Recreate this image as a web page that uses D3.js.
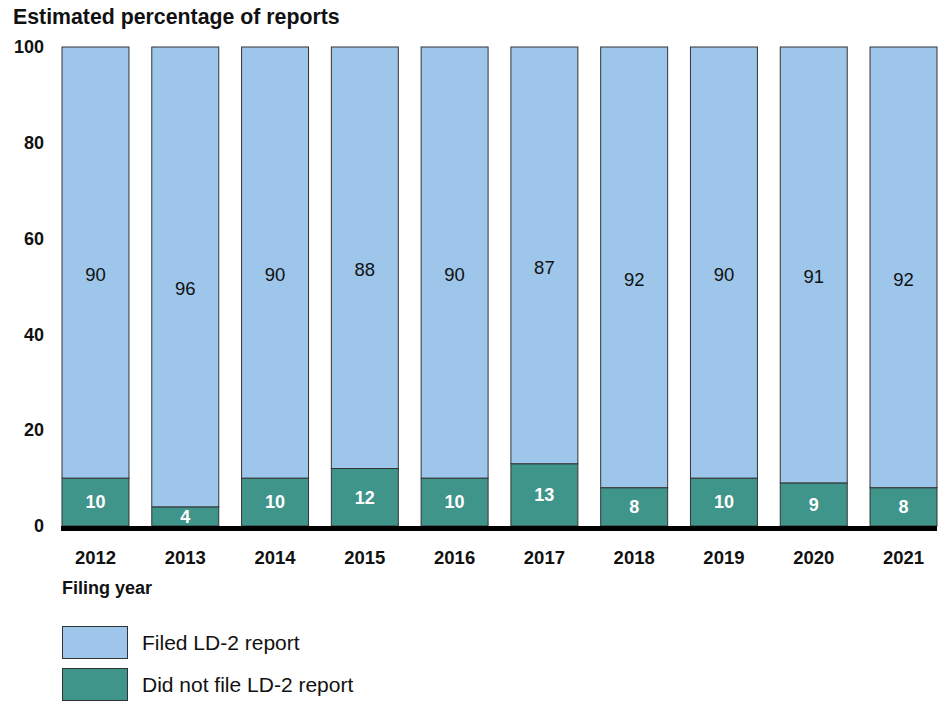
<!DOCTYPE html>
<html>
<head>
<meta charset="utf-8">
<script src="https://cdn.jsdelivr.net/npm/d3@7"></script>
<style>
  html, body { margin: 0; padding: 0; background: #fff; }
  svg { display: block; font-family: "Liberation Sans", Arial, sans-serif; }
</style>
</head>
<body>
<svg id="chart" width="943" height="702"></svg>
<script>
const years = ["2012","2013","2014","2015","2016","2017","2018","2019","2020","2021"];
const filed = [90, 96, 90, 88, 90, 87, 92, 90, 91, 92];
const notFiled = [10, 4, 10, 12, 10, 13, 8, 10, 9, 8];
const yTicks = [0, 20, 40, 60, 80, 100];
const seriesNames = ["Filed LD-2 report", "Did not file LD-2 report"];
const colors = ["#9dc6ea", "#3f958a"];

const svg = d3.select("#chart");
const x = d3.scaleBand().domain(years).range([62, 937]).paddingInner(0.254).paddingOuter(0);
const y = d3.scaleLinear().domain([0, 100]).range([526, 47]);

// Title
svg.append("text").attr("x", 13).attr("y", 24)
  .attr("font-size", 21.3).attr("font-weight", "bold").attr("fill", "#111")
  .text("Estimated percentage of reports");

// Y ticks (labels only)
const yAxis = d3.axisLeft(y).tickValues(yTicks).tickSize(0).tickPadding(0);
const gy = svg.append("g").attr("transform", "translate(44,0)").call(yAxis);
gy.select(".domain").remove();
gy.selectAll("text").attr("font-size", 18).attr("font-weight", "bold")
  .attr("fill", "#111").attr("font-family", "Liberation Sans, Arial, sans-serif");

// Bars
const data = years.map((yr, i) => ({ yr, filed: filed[i], notFiled: notFiled[i] }));
const g = svg.append("g");
g.selectAll("rect.nf").data(data).join("rect").attr("class", "nf")
  .attr("x", d => x(d.yr)).attr("width", x.bandwidth())
  .attr("y", d => y(d.notFiled)).attr("height", d => y(0) - y(d.notFiled))
  .attr("fill", colors[1]).attr("stroke", "#333").attr("stroke-width", 1);
g.selectAll("rect.f").data(data).join("rect").attr("class", "f")
  .attr("x", d => x(d.yr)).attr("width", x.bandwidth())
  .attr("y", d => y(d.notFiled + d.filed)).attr("height", d => y(d.notFiled) - y(d.notFiled + d.filed))
  .attr("fill", colors[0]).attr("stroke", "#333").attr("stroke-width", 1);

// Value labels
g.selectAll("text.nf").data(data).join("text").attr("class", "nf")
  .attr("x", d => x(d.yr) + x.bandwidth() / 2)
  .attr("y", d => (y(0) + y(d.notFiled)) / 2)
  .attr("dy", "0.35em").attr("text-anchor", "middle")
  .attr("font-size", 18).attr("font-weight", "bold").attr("fill", "#fff")
  .text(d => d.notFiled);
g.selectAll("text.f").data(data).join("text").attr("class", "f")
  .attr("x", d => x(d.yr) + x.bandwidth() / 2)
  .attr("y", d => (y(d.notFiled) + y(d.notFiled + d.filed)) / 2 + 12)
  .attr("dy", "0.35em").attr("text-anchor", "middle")
  .attr("font-size", 18.5).attr("fill", "#111")
  .text(d => d.filed);

// Baseline
svg.append("line").attr("x1", 61).attr("x2", 937).attr("y1", 528.5).attr("y2", 528.5)
  .attr("stroke", "#000").attr("stroke-width", 5);

// X axis labels
const xAxis = d3.axisBottom(x).tickSize(0).tickPadding(0);
const gx = svg.append("g").attr("transform", "translate(0,563.5)").call(xAxis);
gx.select(".domain").remove();
gx.selectAll("text").attr("font-size", 18.5).attr("font-weight", "bold")
  .attr("fill", "#111").attr("dy", 0).attr("font-family", "Liberation Sans, Arial, sans-serif");

svg.append("text").attr("x", 62).attr("y", 594)
  .attr("font-size", 18).attr("font-weight", "bold").attr("fill", "#111")
  .text("Filing year");

// Legend
const leg = svg.append("g");
seriesNames.forEach((name, i) => {
  const yy = 626 + i * 42;
  leg.append("rect").attr("x", 62.5).attr("y", yy + 0.5).attr("width", 65).attr("height", 32)
    .attr("fill", colors[i]).attr("stroke", "#333").attr("stroke-width", 1);
  leg.append("text").attr("x", 142).attr("y", yy + 17).attr("dy", "0.35em")
    .attr("font-size", 21).attr("fill", "#111").text(name);
});
</script>
</body>
</html>
